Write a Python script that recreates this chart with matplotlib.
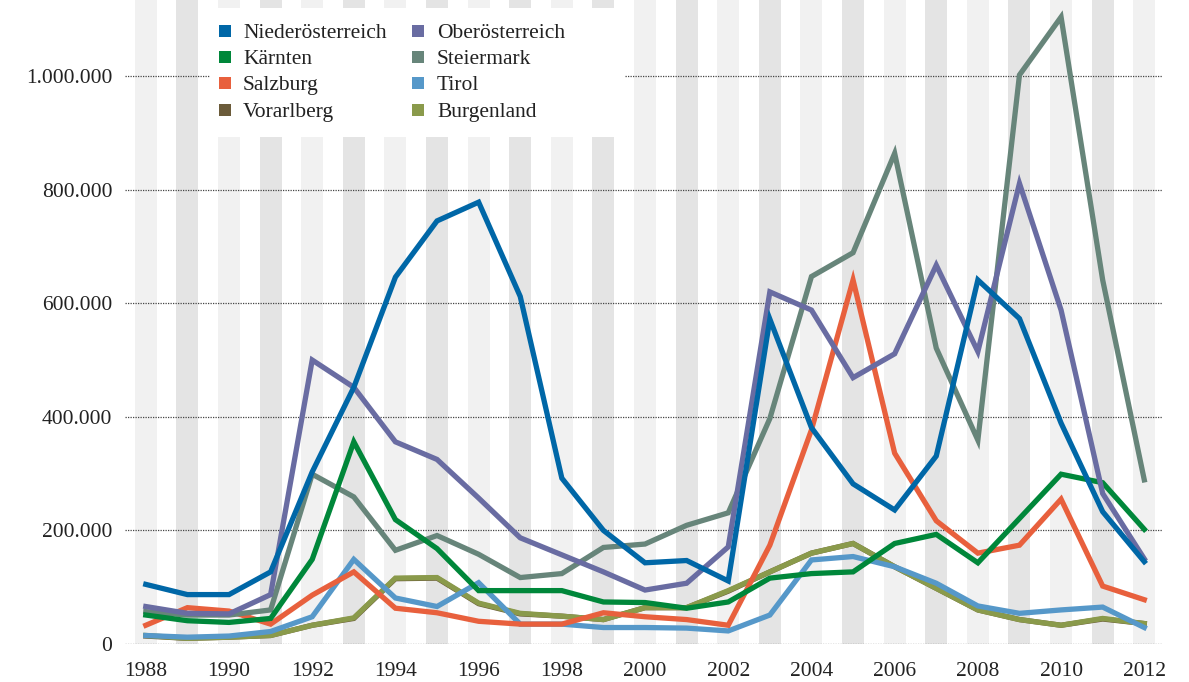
import matplotlib
matplotlib.use("Agg")
import matplotlib.pyplot as plt
from matplotlib.patches import Rectangle
from matplotlib.ticker import FuncFormatter

years = list(range(1988, 2013))

niederoesterreich = [105000, 87000, 87000, 127000, 303000, 452000, 646000, 745000, 778000, 612000,
                     292000, 200000, 143000, 147000, 111000, 572000, 381000, 282000, 236000, 331000,
                     641000, 573000, 389000, 233000, 145000]
oberoesterreich = [66000, 54000, 53000, 87000, 500000, 452000, 356000, 325000, 257000, 187000,
                   157000, 127000, 95000, 107000, 171000, 620000, 588000, 469000, 511000, 667000,
                   515000, 811000, 588000, 265000, 150000]
kaernten = [51000, 41000, 38000, 45000, 149000, 356000, 219000, 168000, 94000, 94000,
            94000, 74000, 73000, 63000, 74000, 116000, 124000, 127000, 177000, 193000,
            143000, 221000, 299000, 284000, 202000]
steiermark = [57000, 51000, 51000, 60000, 299000, 259000, 165000, 191000, 158000, 117000,
              124000, 170000, 176000, 209000, 231000, 397000, 647000, 689000, 864000, 521000,
              359000, 1002000, 1104000, 641000, 289000]
salzburg = [33000, 64000, 58000, 35000, 86000, 127000, 63000, 55000, 40000, 35000,
            35000, 55000, 48000, 43000, 33000, 174000, 377000, 641000, 336000, 217000,
            160000, 174000, 255000, 102000, 78000]
tirol = [15000, 12000, 14000, 22000, 48000, 149000, 81000, 66000, 108000, 35000,
         35000, 29000, 29000, 28000, 23000, 51000, 148000, 154000, 136000, 107000,
         67000, 54000, 60000, 65000, 29000]
vorarlberg = [14000, 10000, 12000, 15000, 33000, 45000, 115000, 116000, 71000, 53000,
              49000, 43000, 64000, 64000, 93000, 127000, 160000, 177000, 136000, 98000,
              60000, 43000, 33000, 44000, 36000]
burgenland = [15000, 10000, 12000, 15000, 33000, 46000, 116000, 117000, 72000, 54000,
              49000, 43000, 64000, 64000, 94000, 127000, 160000, 177000, 136000, 98000,
              60000, 43000, 33000, 45000, 36000]

series = [
    ("Niederösterreich", niederoesterreich, "#0067a7", 8),
    ("Kärnten", kaernten, "#00873a", 6),
    ("Salzburg", salzburg, "#e8603d", 4),
    ("Vorarlberg", vorarlberg, "#6b5b3a", 1),
    ("Oberösterreich", oberoesterreich, "#696ca2", 7),
    ("Steiermark", steiermark, "#67857a", 5),
    ("Tirol", tirol, "#5698c9", 3),
    ("Burgenland", burgenland, "#8a9a4b", 2),
]

FONT = ["Liberation Serif", "DejaVu Serif"]
plt.rcParams["font.family"] = FONT
FS = 15.5

W, H = 1189, 682
fig = plt.figure(figsize=(W / 100, H / 100), dpi=100)
ax = fig.add_axes([125 / W, (H - 644) / H, (1163 - 125) / W, 644 / H])

ax.set_xlim(1987.5, 2012.45)
ax.set_ylim(0, 1134000)

for i, y in enumerate(years):
    col = "#f1f1f1" if i % 2 == 0 else "#e4e4e4"
    ax.axvspan(y - 0.265, y + 0.265, color=col, lw=0, zorder=0)

for v in [0, 200000, 400000, 600000, 800000, 1000000]:
    ax.axhline(v, color="#444444", lw=0.9, ls=(0, (1, 1)), zorder=0.5)

for name, vals, col, z in series:
    ax.plot(years, vals, color=col, lw=3.8, solid_joinstyle="miter", zorder=2 + z, label=name)

ax.set_xticks(list(range(1988, 2013, 2)))
ax.set_yticks([0, 200000, 400000, 600000, 800000, 1000000])
ax.yaxis.set_major_formatter(FuncFormatter(lambda v, p: f"{int(v):,}".replace(",", ".")))
ax.tick_params(length=0, labelsize=FS, colors="#222222")
ax.tick_params(axis="x", pad=13)
ax.tick_params(axis="y", pad=9)
for s in ax.spines.values():
    s.set_visible(False)


def px(x, y):
    return x / W, 1 - y / H


# legend (manual, pixel-placed)
x0, y0 = px(210, 137)
x1, y1 = px(625, 8)
fig.add_artist(Rectangle((x0, y0), x1 - x0, y1 - y0, transform=fig.transFigure,
                         facecolor="white", edgecolor="none", zorder=5))
col_marker_x = [219, 412]
col_text_x = [243, 437]
row_y = [31, 57, 83, 110]
for k, (name, vals, col, z) in enumerate(series):
    c, r = divmod(k, 4)
    mx, my = px(col_marker_x[c], row_y[r] + 6)
    fig.add_artist(Rectangle((mx, my), 12 / W, 12 / H, transform=fig.transFigure,
                             facecolor=col, edgecolor="none", zorder=6))
    tx, ty = px(col_text_x[c], row_y[r] + 7)
    fig.text(tx, ty, name, fontsize=FS, color="#222222", ha="left", va="baseline", zorder=7)

fig.savefig("out.png", dpi=100)
